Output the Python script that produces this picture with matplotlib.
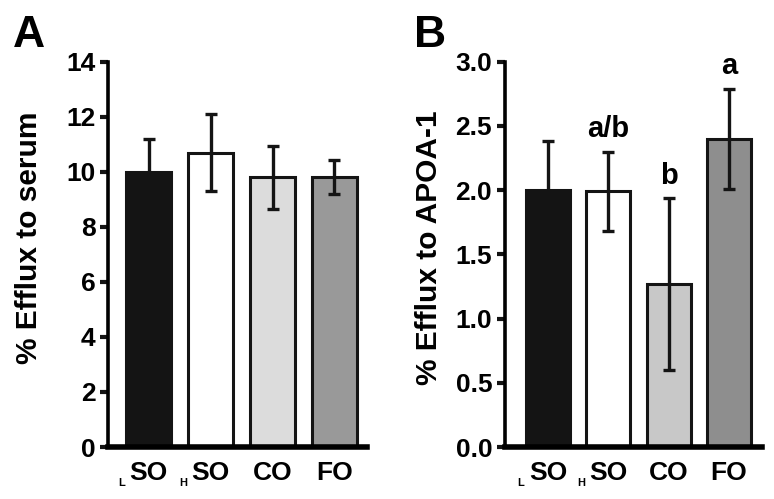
import matplotlib
matplotlib.use("Agg")
import matplotlib.pyplot as plt

#___Data___#
groups = ["SO", "SO", "CO", "FO"]
group_subs = ["L", "H", "", ""]
serum_mean = [10.0, 10.7, 9.8, 9.8]
serum_err = [1.2, 1.4, 1.15, 0.62]
apoa_mean = [2.0, 1.99, 1.27, 2.4]
apoa_err = [0.38, 0.31, 0.67, 0.39]
apoa_letters = ["", "a/b", "b", "a"]

colors_a = ["#141414", "#ffffff", "#dcdcdc", "#999999"]
colors_b = ["#141414", "#ffffff", "#c8c8c8", "#8e8e8e"]

#___Style___#
plt.rcParams["font.family"] = ["Liberation Sans", "DejaVu Sans"]
plt.rcParams["font.weight"] = "bold"
INK = "#141414"

fig = plt.figure(figsize=(7.74, 4.99), dpi=100)
ax_a = fig.add_axes([0.1395, 0.1042, 0.335, 0.772])
ax_b = fig.add_axes([0.652, 0.1042, 0.332, 0.772])


def draw_panel(ax, means, errs, colors, ylim, yticks, yticklabels, ylabel, xlim, label_xy):
    x = list(range(len(means)))
    ax.bar(x, means, width=0.73, color=colors, edgecolor=INK, linewidth=2.2, zorder=2)
    ax.errorbar(x, means, yerr=errs, fmt="none", ecolor=INK, elinewidth=2.4,
                capsize=4.5, capthick=2.4, zorder=3)
    ax.set_xlim(*xlim)
    ax.set_ylim(*ylim)
    ax.set_yticks(yticks)
    ax.set_yticklabels(yticklabels, fontsize=19, fontweight="bold")
    ax.set_xticks(x)
    ax.set_xticklabels(groups, fontsize=19, fontweight="bold")
    ax.tick_params(axis="x", length=0, pad=10)
    ax.tick_params(axis="y", length=6, width=3, pad=3, color=INK)
    # small subscript letters in front of the group names
    for i, sub in enumerate(group_subs):
        if sub:
            ax.annotate(sub, (i, 0), xytext=(-19.5, -26), textcoords="offset points",
                        ha="center", va="center", fontsize=8, fontweight="bold",
                        annotation_clip=False)
    for s in ["top", "right"]:
        ax.spines[s].set_visible(False)
    ax.spines["left"].set_linewidth(2.6)
    ax.spines["bottom"].set_linewidth(4)
    ax.spines["bottom"].set_zorder(4)
    ax.set_ylabel(ylabel, fontsize=21.5, fontweight="bold")
    ax.yaxis.set_label_coords(*label_xy)


draw_panel(ax_a, serum_mean, serum_err, colors_a, (0, 14), list(range(0, 15, 2)),
           [str(v) for v in range(0, 15, 2)], "% Efflux to serum", (-0.66, 3.53),
           (-0.25, 0.543))

draw_panel(ax_b, apoa_mean, apoa_err, colors_b, (0, 3.0), [0, 0.5, 1.0, 1.5, 2.0, 2.5, 3.0],
           ["0.0", "0.5", "1.0", "1.5", "2.0", "2.5", "3.0"], "% Efflux to APOA-1", (-0.72, 3.54),
           (-0.24, 0.517))

for i, lab in enumerate(apoa_letters):
    if lab:
        ax_b.annotate(lab, (i, apoa_mean[i] + apoa_err[i]), xytext=(0, 6),
                      textcoords="offset points", ha="center", va="bottom",
                      fontsize=21, fontweight="bold")

fig.text(0.017, 0.905, "A", fontsize=32, fontweight="bold")
fig.text(0.535, 0.905, "B", fontsize=32, fontweight="bold")

fig.savefig("out.png", dpi=100)
